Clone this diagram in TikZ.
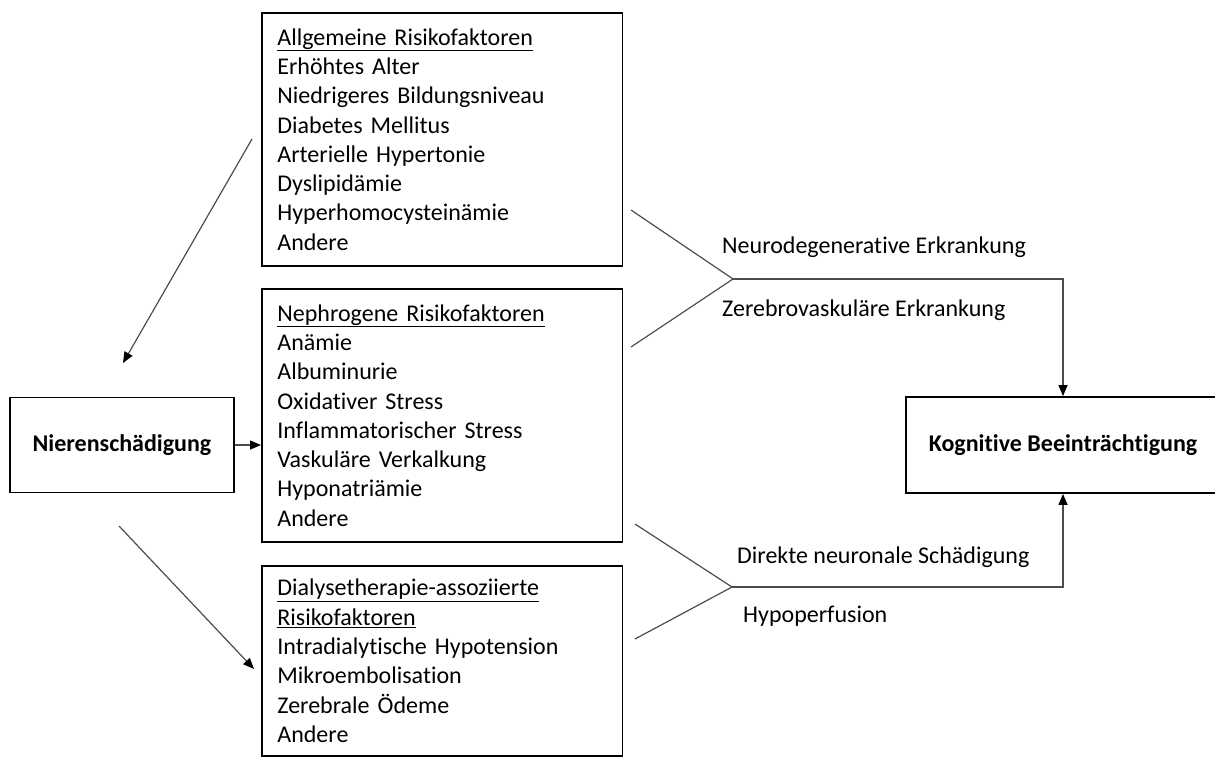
\documentclass[tikz,border=0pt]{standalone}
\usepackage{fontspec}
\setmainfont{Carlito}[Ligatures={NoCommon,NoRare,NoContextual}]
\usetikzlibrary{arrows.meta}
\begin{document}
\begin{tikzpicture}[x=1pt,y=-1pt,
  box/.style={draw=black, line width=1.8pt, font=\fontsize{24}{29.3}\selectfont},
  listbox/.style={box, align=left, anchor=north west, inner xsep=15.5pt, inner ysep=0pt, text width=329.5pt},
  boldbox/.style={box, font=\fontsize{24}{29.3}\selectfont\bfseries, inner sep=0pt},
  conn/.style={draw=black!70, line width=1.2pt},
  arr/.style={conn, -{Triangle[length=11pt,width=9pt,color=black]}},
  lbl/.style={anchor=west, inner sep=0pt, font=\fontsize{24}{29.3}\selectfont}]
\useasboundingbox (0,0) rectangle (1215,756);

\node[listbox, minimum height=253pt] (allg) at (261,12)
  {\underline{Allgemeine Risikofaktoren}\\Erhöhtes Alter\\Niedrigeres Bildungsniveau\\Diabetes Mellitus\\Arterielle Hypertonie\\Dyslipidämie\\Hyperhomocysteinämie\\Andere};
\node[listbox, minimum height=253pt] (neph) at (261,288)
  {\underline{Nephrogene Risikofaktoren}\\Anämie\\Albuminurie\\Oxidativer Stress\\Inflammatorischer Stress\\Vaskuläre Verkalkung\\Hyponatriämie\\Andere};
\node[listbox, minimum height=190pt] (dial) at (261,565)
  {\underline{Dialysetherapie-assoziierte}\\\underline{Risikofaktoren}\\Intradialytische Hypotension\\Mikroembolisation\\Zerebrale Ödeme\\Andere};

\node[boldbox, minimum width=224pt, minimum height=95pt] (nier) at (122,445) {Nierenschädigung};
\node[boldbox, minimum width=314pt, minimum height=96pt] (kog) at (1063,445) {Kognitive Beeinträchtigung};

% arrows from/to Nierenschaedigung
\coordinate (a1s) at (252,139);
\coordinate (a1e) at (123,363);
\draw[arr] (a1s) -- (a1e);
\draw[arr] (nier.east) -- (nier.east -| neph.west);
\coordinate (a2s) at (119,526);
\coordinate (a2e) at (254,669);
\draw[arr] (a2s) -- (a2e);

% upper convergence
\coordinate (u1) at (631,210);
\coordinate (u2) at (631,347);
\coordinate (uc) at (733,279);
\draw[conn] (u1) -- (uc) -- (u2);
\draw[arr] (uc) -- (uc -| kog.north) -- (kog.north);
\node[lbl] (ndeg) at (722,247) {Neurodegenerative Erkrankung};
\node[lbl] (zvas) at (722,310) {Zerebrovaskuläre Erkrankung};

% lower convergence
\coordinate (l1) at (635,524);
\coordinate (l2) at (635,639);
\coordinate (lc) at (732,587);
\draw[conn] (l1) -- (lc) -- (l2);
\draw[arr] (lc) -- (lc -| kog.south) -- (kog.south);
\node[lbl] (dns) at (737,557) {Direkte neuronale Schädigung};
\node[lbl] (hyp) at (743,616) {Hypoperfusion};
\end{tikzpicture}
\end{document}
